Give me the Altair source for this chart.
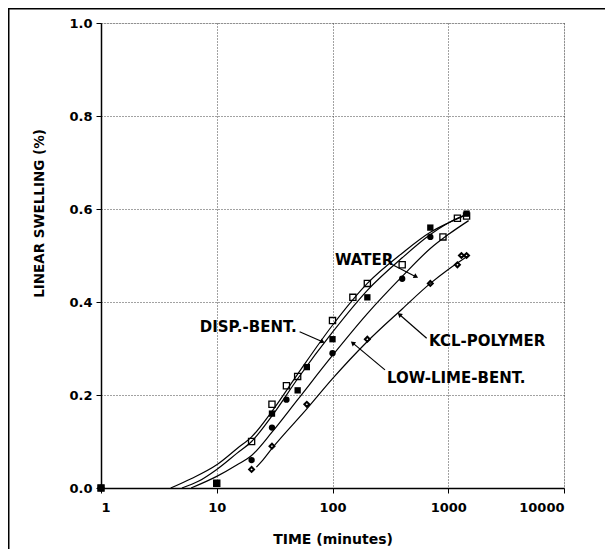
import altair as alt
import pandas as pd

water_t = [1, 10, 20, 30, 40, 50, 100, 150, 200, 400, 900, 1200, 1440]
water_y = [0.0, 0.01, 0.10, 0.18, 0.22, 0.24, 0.36, 0.41, 0.44, 0.48, 0.54, 0.58, 0.585]

disp_t = [1, 10, 30, 50, 60, 100, 200, 700, 1440]
disp_y = [0.0, 0.01, 0.16, 0.21, 0.26, 0.32, 0.41, 0.56, 0.59]

lowlime_t = [1, 20, 30, 40, 100, 400, 700]
lowlime_y = [0.0, 0.06, 0.13, 0.19, 0.29, 0.45, 0.54]

kcl_t = [1, 20, 30, 60, 200, 700, 1200, 1300, 1440]
kcl_y = [0.0, 0.04, 0.09, 0.18, 0.32, 0.44, 0.48, 0.50, 0.50]

# ---------------- fitted curves ----------------
water_curve_t = [4, 6, 10, 15, 20, 30, 50, 100, 200, 400, 700, 1000, 1500]
water_curve_y = [0.0, 0.02, 0.05, 0.085, 0.11, 0.165, 0.245, 0.35, 0.44, 0.505, 0.55, 0.57, 0.59]

disp_curve_t = [5, 7, 10, 15, 20, 30, 50, 100, 200, 400, 700, 1000, 1500]
disp_curve_y = [0.0, 0.015, 0.04, 0.075, 0.10, 0.155, 0.235, 0.335, 0.425, 0.495, 0.545, 0.57, 0.59]

lowlime_curve_t = [6, 10, 15, 20, 30, 50, 100, 200, 400, 700, 1000, 1500]
lowlime_curve_y = [0.0, 0.025, 0.05, 0.07, 0.12, 0.19, 0.285, 0.375, 0.455, 0.515, 0.545, 0.575]

kcl_curve_t = [22, 25, 30, 60, 100, 200, 400, 700, 1000, 1500]
kcl_curve_y = [0.045, 0.06, 0.085, 0.17, 0.235, 0.315, 0.385, 0.44, 0.47, 0.50]

# ---------------- annotations ----------------
label_left_text = ["WATER", "LOW-LIME-BENT.", "KCL-POLYMER"]
label_left_t = [105, 296, 682]
label_left_y = [0.49, 0.237, 0.316]

label_right_text = ["DISP.-BENT."]
label_right_t = [49]
label_right_y = [0.346]

arrow_start_t = [330, 52, 284, 651]
arrow_start_y = [0.48, 0.336, 0.254, 0.322]
arrow_end_t = [520, 81, 151, 383]
arrow_end_y = [0.455, 0.315, 0.311, 0.372]
arrow_angle = [118, 114, 310, 311]

x_ticks = [1, 10, 100, 1000, 10000]
y_ticks = [0.0, 0.2, 0.4, 0.6, 0.8, 1.0]


def tab(ts, ys, name):
    return pd.DataFrame({"t": ts, "y": ys, "series": name})


water = tab(water_t, water_y, "WATER")
disp = tab(disp_t, disp_y, "DISP.-BENT.")
lowlime = tab(lowlime_t, lowlime_y, "LOW-LIME-BENT.")
kcl = tab(kcl_t, kcl_y, "KCL-POLYMER")

curves = pd.concat([
    tab(water_curve_t, water_curve_y, "WATER"),
    tab(disp_curve_t, disp_curve_y, "DISP.-BENT."),
    tab(lowlime_curve_t, lowlime_curve_y, "LOW-LIME-BENT."),
    tab(kcl_curve_t, kcl_curve_y, "KCL-POLYMER"),
])

labels_l = pd.DataFrame({"t": label_left_t, "y": label_left_y, "txt": label_left_text})
labels_r = pd.DataFrame({"t": label_right_t, "y": label_right_y, "txt": label_right_text})
arrows = pd.DataFrame({"t": arrow_start_t, "y": arrow_start_y,
                       "t2": arrow_end_t, "y2": arrow_end_y, "ang": arrow_angle})

FONT = "DejaVu Sans"

x_scale = alt.Scale(type="log", domain=[1, 10000], nice=False)
y_scale = alt.Scale(domain=[0, 1], nice=False)

x_axis = alt.Axis(values=x_ticks, format="d", title="TIME  (minutes)",
                  grid=True, gridDash=[1, 2], gridColor="#444", gridWidth=1,
                  domainColor="black", domainWidth=1.5, tickColor="black", tickSize=5,
                  labelFont=FONT, labelFontWeight="bold", labelFontSize=13, labelColor="black",
                  labelPadding=8, titleFont=FONT, titleFontWeight="bold", titleFontSize=14,
                  titleColor="black", titlePadding=18)
y_axis = alt.Axis(values=y_ticks, format=".1f", title="LINEAR SWELLING (%)",
                  grid=True, gridDash=[1, 2], gridColor="#444", gridWidth=1,
                  domainColor="black", domainWidth=1.5, tickColor="black", tickSize=5,
                  labelFont=FONT, labelFontWeight="bold", labelFontSize=13, labelColor="black",
                  labelPadding=4, titleFont=FONT, titleFontWeight="bold", titleFontSize=13.5,
                  titleColor="black", titleX=-62, titleY=190, titleAngle=270,
                  titleAlign="center", titleBaseline="middle")

X = alt.X("t:Q", scale=x_scale, axis=x_axis)
Y = alt.Y("y:Q", scale=y_scale, axis=y_axis)

lines = alt.Chart(curves).mark_line(color="black", strokeWidth=1.2, interpolate="monotone").encode(
    x=X, y=Y, detail="series:N")

p_water = alt.Chart(water).mark_point(shape="square", filled=False, color="black",
                                       strokeWidth=1.3, size=38, opacity=1).encode(x=X, y=Y)
p_disp = alt.Chart(disp).mark_point(shape="square", filled=True, color="black",
                                     size=40, opacity=1).encode(x=X, y=Y)
p_low = alt.Chart(lowlime).mark_point(shape="circle", filled=True, color="black",
                                       size=40, opacity=1).encode(x=X, y=Y)
p_kcl = alt.Chart(kcl).mark_point(shape="diamond", filled=False, color="black",
                                   strokeWidth=2, size=24, opacity=1).encode(x=X, y=Y)

txt_l = alt.Chart(labels_l).mark_text(align="left", baseline="middle", font=FONT,
                                       fontWeight="bold", fontSize=15, color="black").encode(
    x=X, y=Y, text="txt:N")
txt_r = alt.Chart(labels_r).mark_text(align="right", baseline="middle", font=FONT,
                                       fontWeight="bold", fontSize=15, color="black").encode(
    x=X, y=Y, text="txt:N")

arrow_lines = alt.Chart(arrows).mark_rule(color="black", strokeWidth=1.2).encode(
    x=X, y=Y, x2="t2:Q", y2="y2:Q")
arrow_heads = alt.Chart(arrows).mark_point(shape="triangle", filled=True, color="black",
                                           size=28, opacity=1).encode(
    x=alt.X("t2:Q", scale=x_scale, axis=x_axis), y=alt.Y("y2:Q", scale=y_scale, axis=y_axis),
    angle=alt.Angle("ang:Q", scale=None))

outer = alt.Chart(alt.Data(values=[{"a": 1}])).mark_rect(
    fill="transparent", stroke="black", strokeWidth=1.5).encode(
    x=alt.value(-92.25), x2=alt.value(620), y=alt.value(-14.25), y2=alt.value(620))

chart = alt.layer(outer, lines, arrow_lines, arrow_heads, p_water, p_disp, p_low, p_kcl,
                  txt_l, txt_r).properties(
    width=463, height=465,
    autosize=alt.AutoSizeParams(type="none"),
    padding={"left": 93, "top": 15, "right": 41, "bottom": 61},
).configure_view(stroke="black", strokeWidth=1.5).configure(background="white")

chart.save("out.html", embed_options={"renderer": "svg", "actions": False})
